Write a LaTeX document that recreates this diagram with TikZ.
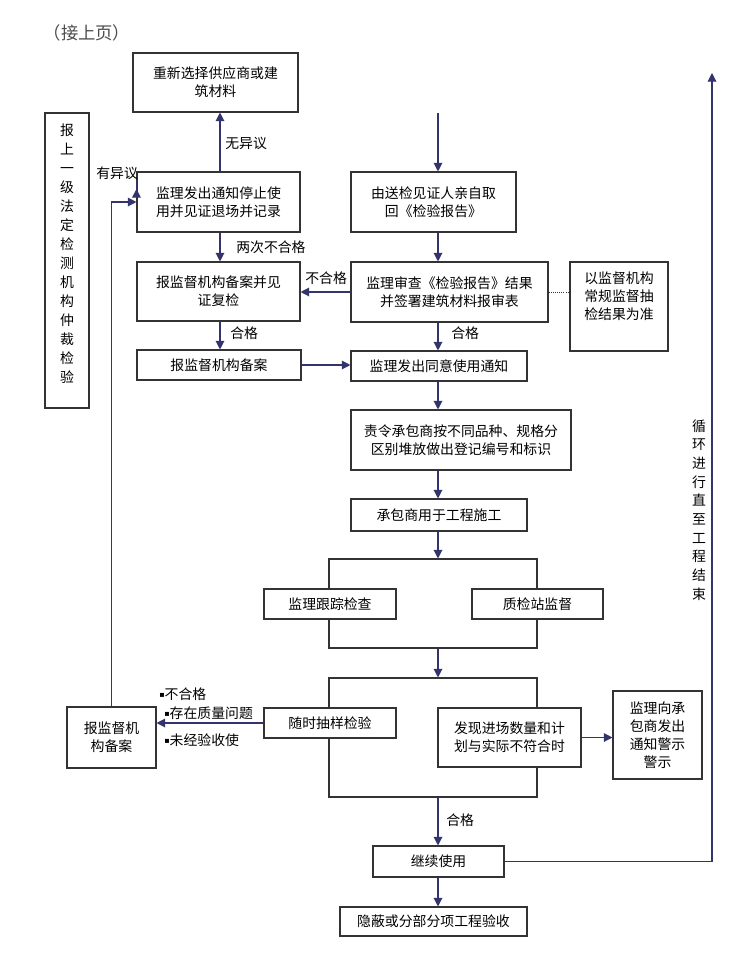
\documentclass[tikz,border=0pt]{standalone}
\usepackage{fontspec}
\newfontfamily\cjk{Noto Sans CJK SC}
\newfontfamily\djv{DejaVu Sans}
\usetikzlibrary{arrows.meta,fit,calc}
\definecolor{navy}{HTML}{34346C}
\definecolor{boxline}{HTML}{333333}
\newcommand\mybox[6]{%
  \node[box, fit={(#2,#3)(#4,#5)}] (#1) {};
  \node[txt] (#1-t) at (#1.center) {#6};}
\begin{document}
\begin{tikzpicture}[x=0.75pt,y=-0.75pt,
  every node/.style={font=\cjk\fontsize{10.4pt}{13.5pt}\selectfont},
  box/.style={draw=boxline, fill=white, line width=0.8pt, inner sep=0pt},
  txt/.style={inner sep=0pt, align=center},
  frame/.style={draw=boxline, line width=0.8pt, inner sep=0pt},
  arr/.style={draw=navy, line width=0.9pt, -{Triangle[length=6.5pt,width=6.5pt]}},
  lbl/.style={inner sep=0pt, anchor=west}]
\useasboundingbox (0,0) rectangle (743,968);
\fill[white] (0,0) rectangle (743,968);

\coordinate (xL) at (220,0);
\coordinate (xR) at (438,0);
\coordinate (loopc) at (712,73);

% header
\node[inner sep=0pt, font=\cjk\fontsize{13pt}{15pt}\selectfont, text=black!70] (hdr) at (87,33) {（接上页）};

% left column
\mybox{n1}{133}{53}{298}{112}{重新选择供应商或建\\筑材料}
\node[box, fit={(45,113)(89,408)}] (arb) {};
\node[txt, font=\cjk\fontsize{10.4pt}{14.25pt}\selectfont] (arbt) at (67,254) {报\\上\\一\\级\\法\\定\\检\\测\\机\\构\\仲\\裁\\检\\验};
\mybox{n2}{137}{172}{300}{232}{监理发出通知停止使\\用并见证退场并记录}
\mybox{n3}{137}{262}{300}{321}{报监督机构备案并见\\证复检}
\mybox{n5}{137}{350}{301}{380}{报监督机构备案}

% right column
\coordinate (top) at (438,113);
\mybox{r1}{351}{172}{516}{232}{由送检见证人亲自取\\回《检验报告》}
\mybox{n4}{351}{262}{548}{322}{监理审查《检验报告》结果\\并签署建筑材料报审表}
\node[box, fit={(570,262)(668,351)}] (side) {};
\node[txt] (sidet) at (619,296) {以监督机构\\常规监督抽\\检结果为准};
\mybox{n6}{351}{351}{527}{381}{监理发出同意使用通知}
\mybox{n7}{351}{410}{571}{470}{责令承包商按不同品种、规格分\\区别堆放做出登记编号和标识}
\mybox{n8}{351}{499}{527}{531}{承包商用于工程施工}

% frame 1
\node[frame, fit={(329,559)(537,648)}] (f1) {};
\mybox{track}{264}{589}{396}{619}{监理跟踪检查}
\mybox{stat}{472}{589}{603}{619}{质检站监督}

% frame 2
\node[frame, fit={(329,678)(537,797)}] (f2) {};
\mybox{samp}{264}{708}{396}{738}{随时抽样检验}
\mybox{find}{438}{708}{581}{767}{发现进场数量和计\\划与实际不符合时}
\mybox{warn}{613}{691}{702}{779}{监理向承\\包商发出\\通知警示\\警示}
\mybox{bb}{67}{707}{156}{768}{报监督机\\构备案}

\mybox{cont}{373}{846}{504}{877}{继续使用}
\mybox{hid}{340}{907}{527}{936}{隐蔽或分部分项工程验收}

% vertical loop label
\node[txt, font=\cjk\fontsize{10.4pt}{14pt}\selectfont] (loopt) at (699,510) {循\\环\\进\\行\\直\\至\\工\\程\\结\\束};

% connectors left column
\draw[arr] (n2.north -| xL) -- (n1.south -| xL);
\node[lbl] (l1) at (225,143) {无异议};
\draw[arr] ($(n2.west)+(0,-13)$) -- ($(n2.west)+(0,-13)$ -| arb.east);
\node[lbl] (l2) at (96,173) {有异议};
\draw[arr] (n2.south -| xL) -- (n3.north -| xL);
\node[lbl] (l3) at (236,247) {两次不合格};
\draw[arr] (n4.west) -- (n4.west -| n3.east);
\node[lbl] (l4) at (305,278) {不合格};
\draw[arr] (n3.south -| xL) -- (n5.north -| xL);
\node[lbl] (l5) at (230,333) {合格};
\draw[arr] (n5.east) -- (n5.east -| n6.west);

% connectors right column
\draw[arr] (top) -- (r1.north -| xR);
\draw[arr] (r1.south -| xR) -- (n4.north -| xR);
\draw[densely dotted, draw=boxline, line width=0.6pt] (n4.east) -- (n4.east -| side.west);
\draw[arr] (n4.south -| xR) -- (n6.north -| xR);
\node[lbl] (l6) at (451,333) {合格};
\draw[arr] (n6.south -| xR) -- (n7.north -| xR);
\draw[arr] (n7.south -| xR) -- (n8.north -| xR);
\draw[arr] (n8.south -| xR) -- (f1.north -| xR);
\draw[arr] (f1.south -| xR) -- (f2.north -| xR);
\draw[arr] (find.east) -- (find.east -| warn.west);
\draw[arr] (f2.south -| xR) -- (cont.north -| xR);
\node[lbl] (l7) at (446,820) {合格};
\draw[arr] (cont.south -| xR) -- (hid.north -| xR);
\draw[arr] (cont.east) -| (loopc);

% left-bottom
\draw[arr] (samp.west) -- (samp.west -| bb.east);
\node[lbl] (b1) at (159,694) {{\djv\fontsize{6pt}{6pt}\selectfont\raisebox{1.5pt}{▪}}不合格};
\node[lbl] (b2) at (164,713) {{\djv\fontsize{6pt}{6pt}\selectfont\raisebox{1.5pt}{▪}}存在质量问题};
\node[lbl] (b3) at (164,740) {{\djv\fontsize{6pt}{6pt}\selectfont\raisebox{1.5pt}{▪}}未经验收使};
\draw[arr] (bb.north) |- (n2.west);
\end{tikzpicture}
\end{document}
